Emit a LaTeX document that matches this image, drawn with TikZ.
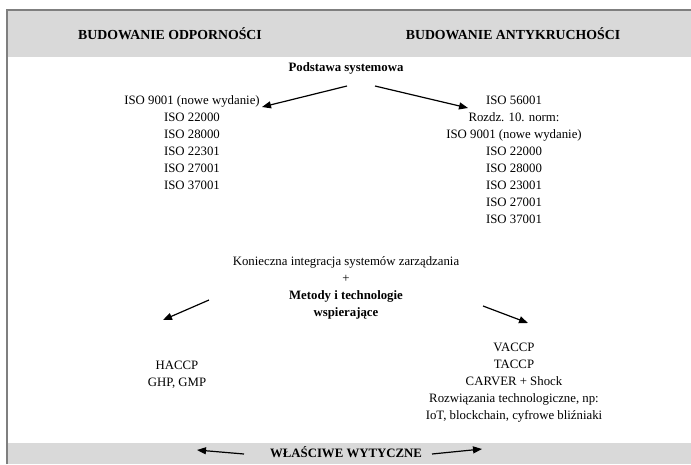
\documentclass[tikz,border=0pt]{standalone}
\usepackage{fontspec}
\setmainfont{Liberation Serif}
\usetikzlibrary{arrows.meta}
\definecolor{bandgray}{HTML}{D9D9D9}
\definecolor{bordergray}{HTML}{7F7F7F}
\begin{document}
\begin{tikzpicture}[x=1pt,y=-1pt,
  txt/.style={font=\fontsize{12.8}{17}\selectfont, align=center, inner sep=0pt},
  hd/.style={font=\fontsize{12.8}{17}\selectfont\bfseries, align=center, inner sep=0pt},
  bighd/.style={font=\fontsize{13.8}{17}\selectfont\bfseries, align=center, inner sep=0pt},
  arr/.style={-{Triangle[length=9pt,width=7pt]}, line width=1.2pt}]
\useasboundingbox (0,0) rectangle (691,464);
\fill[white] (0,0) rectangle (691,464);
\fill[bandgray] (7,10) rectangle (691,57);
\fill[bandgray] (7,443) rectangle (691,464);
\draw[bordergray, line width=1.5pt] (7,464) -- (7,10) -- (691,10);

\node[bighd] (h1) at (170,34) {BUDOWANIE ODPORNOŚCI};
\node[bighd] (h2) at (513,34) {BUDOWANIE ANTYKRUCHOŚCI};
\node[hd] (ps) at (346,68) {Podstawa systemowa};

\node[txt] (l1) at (192,142.5) {ISO 9001 (nowe wydanie)\\ISO 22000\\ISO 28000\\ISO 22301\\ISO 27001\\ISO 37001};
\node[txt] (r1) at (514,159.5) {ISO 56001\\Rozdz. 10. norm:\\ISO 9001 (nowe wydanie)\\ISO 22000\\ISO 28000\\ISO 23001\\ISO 27001\\ISO 37001};

\node[txt] (mid) at (346,288) {Konieczna integracja systemów zarządzania\\+\\\textbf{Metody i technologie}\\\textbf{wspierające}};

\node[txt] (l2) at (177,374.5) {HACCP\\GHP, GMP};
\node[txt] (r2) at (514,383) {VACCP\\TACCP\\CARVER + Shock\\Rozwiązania technologiczne, np:\\IoT, blockchain, cyfrowe bliźniaki};

\node[hd] (ww) at (346,452) {WŁAŚCIWE WYTYCZNE};

\coordinate (a1s) at (347,86);
\coordinate (a1e) at (262,107);
\coordinate (a2s) at (375,86);
\coordinate (a2e) at (468,108);
\coordinate (a3s) at (209,300);
\coordinate (a3e) at (163,320);
\coordinate (a4s) at (483,306);
\coordinate (a4e) at (528,323);
\coordinate (a5s) at (244,454);
\coordinate (a5e) at (197,450);
\coordinate (a6s) at (432,454);
\coordinate (a6e) at (482,449);
\draw[arr] (a1s) -- (a1e);
\draw[arr] (a2s) -- (a2e);
\draw[arr] (a3s) -- (a3e);
\draw[arr] (a4s) -- (a4e);
\draw[arr] (a5s) -- (a5e);
\draw[arr] (a6s) -- (a6e);
\end{tikzpicture}
\end{document}
